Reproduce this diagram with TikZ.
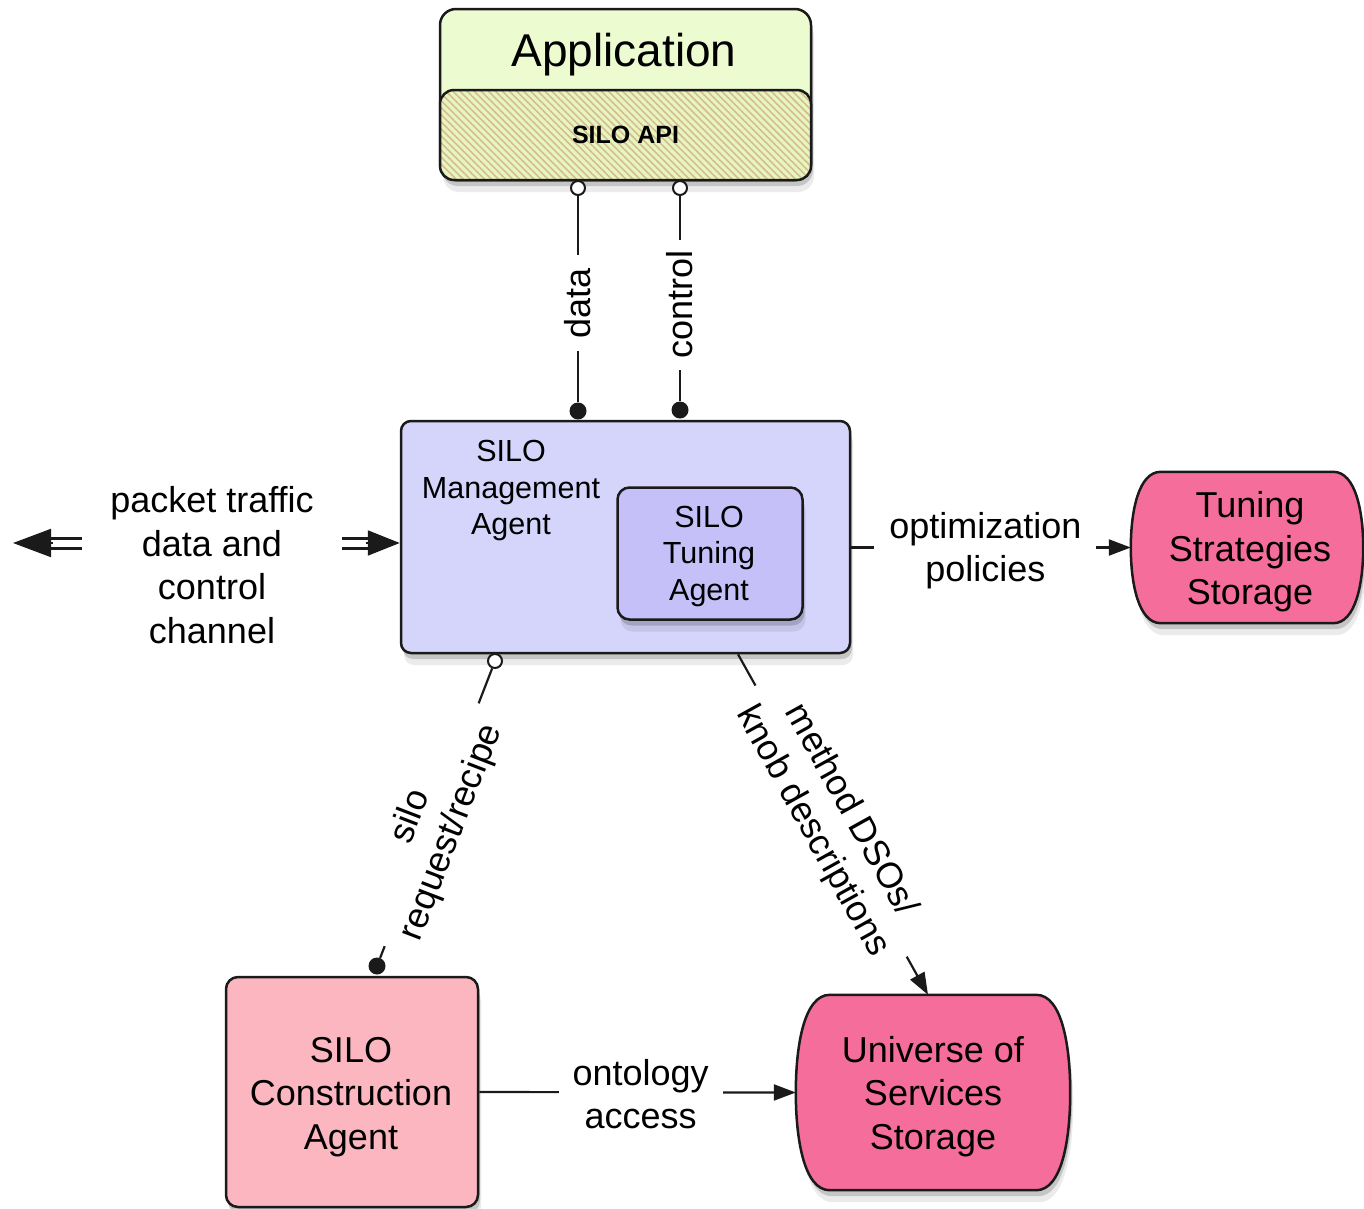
\documentclass[tikz,border=0pt]{standalone}
\usepackage{fontspec}
\setmainfont{Liberation Sans}
\usetikzlibrary{arrows.meta,calc,patterns.meta}
\pgfdeclarelayer{background}
\pgfsetlayers{background,main}

\definecolor{appgreen}{HTML}{EDFBD0}
\definecolor{apigreen}{HTML}{E6F6C2}
\definecolor{hatchcol}{HTML}{D9BC8C}
\definecolor{mgmtfill}{HTML}{D5D5FC}
\definecolor{tunefill}{HTML}{C5C0F8}
\definecolor{storefill}{HTML}{F56E9B}
\definecolor{consfill}{HTML}{FBB6C0}
\definecolor{edgecol}{HTML}{1A1A1A}

\newcommand\mystorepath[3]{%
  \path[store] ($(#1.north west)+(#2,0)$) -- ($(#1.north east)+(-#2,0)$)
    .. controls ($(#1.north east)+(-0.25*#2,0)$) and ($(#1.north east)+(0,#3)$) .. (#1.east)
    .. controls ($(#1.south east)+(0,-#3)$) and ($(#1.south east)+(-0.25*#2,0)$) .. ($(#1.south east)+(-#2,0)$)
    -- ($(#1.south west)+(#2,0)$)
    .. controls ($(#1.south west)+(0.25*#2,0)$) and ($(#1.south west)+(0,-#3)$) .. (#1.west)
    .. controls ($(#1.north west)+(0,#3)$) and ($(#1.north west)+(0.25*#2,0)$) .. cycle;}

\begin{document}
\begin{tikzpicture}[x=1pt,y=-1pt,
  shadowed/.style={
    preaction={fill=black,opacity=0.08,transform canvas={shift={(3pt,-12pt)}}},
    preaction={fill=black,opacity=0.16,transform canvas={shift={(2pt,-6pt)}}}},
  box/.style={rectangle,draw=edgecol,line width=2.5pt,inner sep=0pt,align=center,shadowed},
  store/.style={draw=edgecol,line width=2.5pt,fill=storefill,shadowed},
  big/.style={font=\fontsize{36}{43.5}\selectfont},
  mid/.style={font=\fontsize{30.5}{36.5}\selectfont},
  txt/.style={inner sep=0pt,align=center},
  lbl/.style={fill=white,inner xsep=14pt,inner ysep=3pt,align=center,big},
  conn/.style={draw=edgecol,line width=2.2pt},
  tip/.style={-{Triangle[length=22pt,width=16pt]}},
  opencirc/.style={circle,draw=edgecol,fill=white,line width=2pt,minimum size=14pt,inner sep=0pt},
  dotcirc/.style={circle,fill=edgecol,minimum size=17pt,inner sep=0pt},
  dbl/.style={draw=edgecol,double=white,double distance=7pt,line width=3pt}
]
\useasboundingbox (0,0) rectangle (1364,1208);

% Application with SILO API
\node[box,fill=appgreen,rounded corners=16pt,minimum width=371pt,minimum height=171pt] (app) at (625.5,94.5) {};
\node[txt,font=\fontsize{46}{55}\selectfont] (apptext) at (624,55) {Application};
\node[rectangle,draw=edgecol,line width=2.5pt,rounded corners=14pt,minimum width=371pt,minimum height=90pt,
      inner sep=0pt,preaction={fill=apigreen},
      pattern={Lines[angle=-45,distance=5pt,line width=1.6pt]},pattern color=hatchcol,
      font=\fontsize{25}{30}\selectfont\bfseries] (api) at (625.5,135) {SILO API};

% Management agent
\node[box,fill=mgmtfill,rounded corners=10pt,minimum width=449pt,minimum height=232pt] (mgmt) at (625.5,537) {};
\node[txt,mid] (mtext) at (511,491) {SILO\\Management\\Agent};
\node[box,fill=tunefill,rounded corners=12pt,minimum width=185pt,minimum height=132pt] (tune) at (710,553.5) {};
\node[txt,mid] (tunetext) at (709,556.5) {SILO\\Tuning\\Agent};

% Storages
\node[txt,minimum width=232pt,minimum height=151pt] (tstore) at (1247,547.5) {};
\node[txt,big] (tstoretext) at (1250,552) {Tuning\\Strategies\\Storage};
\node[txt,minimum width=274pt,minimum height=195pt] (ustore) at (933,1092.5) {};
\node[txt,big] (ustoretext) at (933,1096.5) {Universe of\\Services\\Storage};
\begin{pgfonlayer}{background}
\mystorepath{tstore}{30}{40}
\mystorepath{ustore}{34}{50}
\end{pgfonlayer}

% Construction agent
\node[box,fill=consfill,rounded corners=12pt,minimum width=252pt,minimum height=230pt] (cons) at (352,1092) {};
\node[txt,big] (constext) at (351,1097) {SILO\\Construction\\Agent};

% data / control
\node[opencirc] (c1) at (578,188) {};
\node[opencirc] (c2) at (680,188) {};
\node[dotcirc] (d1) at (578,411) {};
\node[dotcirc] (d2) at (680,410) {};
\draw[conn] (c1) -- node[lbl,rotate=90,pos=0.52,inner xsep=13pt,inner ysep=1pt] {data} (d1);
\draw[conn] (c2) -- node[lbl,rotate=90,pos=0.53,inner xsep=11pt,inner ysep=1pt] {control} (d2);

% packet traffic channel
\coordinate (ext) at (13,543);
\coordinate (mw) at (mgmt.west |- ext);
\draw[dbl,shorten <=34pt,shorten >=28pt] (ext) -- (mw);
\draw[draw=edgecol,line width=2pt,-{Triangle[length=38pt,width=28pt]}] ($(ext)+(40,0)$) -- (ext);
\draw[draw=edgecol,line width=2pt,-{Triangle[length=32pt,width=25pt]}] ($(mw)+(-34,0)$) -- (mw);
\node[lbl,inner xsep=28pt,inner ysep=4pt] (ptlabel) at (212,565) {packet traffic\\data and\\control\\channel};

% optimization policies
\draw[conn,tip] (mgmt.east |- tstore.west) -- node[lbl,pos=0.48,inner xsep=15pt,yshift=-3pt] {optimization\\policies} (tstore.west);

% silo request/recipe
\node[opencirc] (c3) at (495,661) {};
\node[dotcirc] (d3) at (377,966) {};
\draw[conn] (c3) -- node[lbl,rotate=69,pos=0.54,inner xsep=16pt] {silo\\request/recipe} (d3);

% method DSOs / knob descriptions
\draw[conn,tip] ($(mgmt.south)+(112.5,0)$) -- node[lbl,rotate=-61,pos=0.49,inner xsep=15pt] {method DSOs/\\knob descriptions} ($(ustore.north)+(-5,0)$);

% ontology access
\draw[conn,tip] (cons.east) -- node[lbl,pos=0.51,inner xsep=14pt,yshift=-2pt] {ontology\\access} (ustore.west);
\end{tikzpicture}
\end{document}
